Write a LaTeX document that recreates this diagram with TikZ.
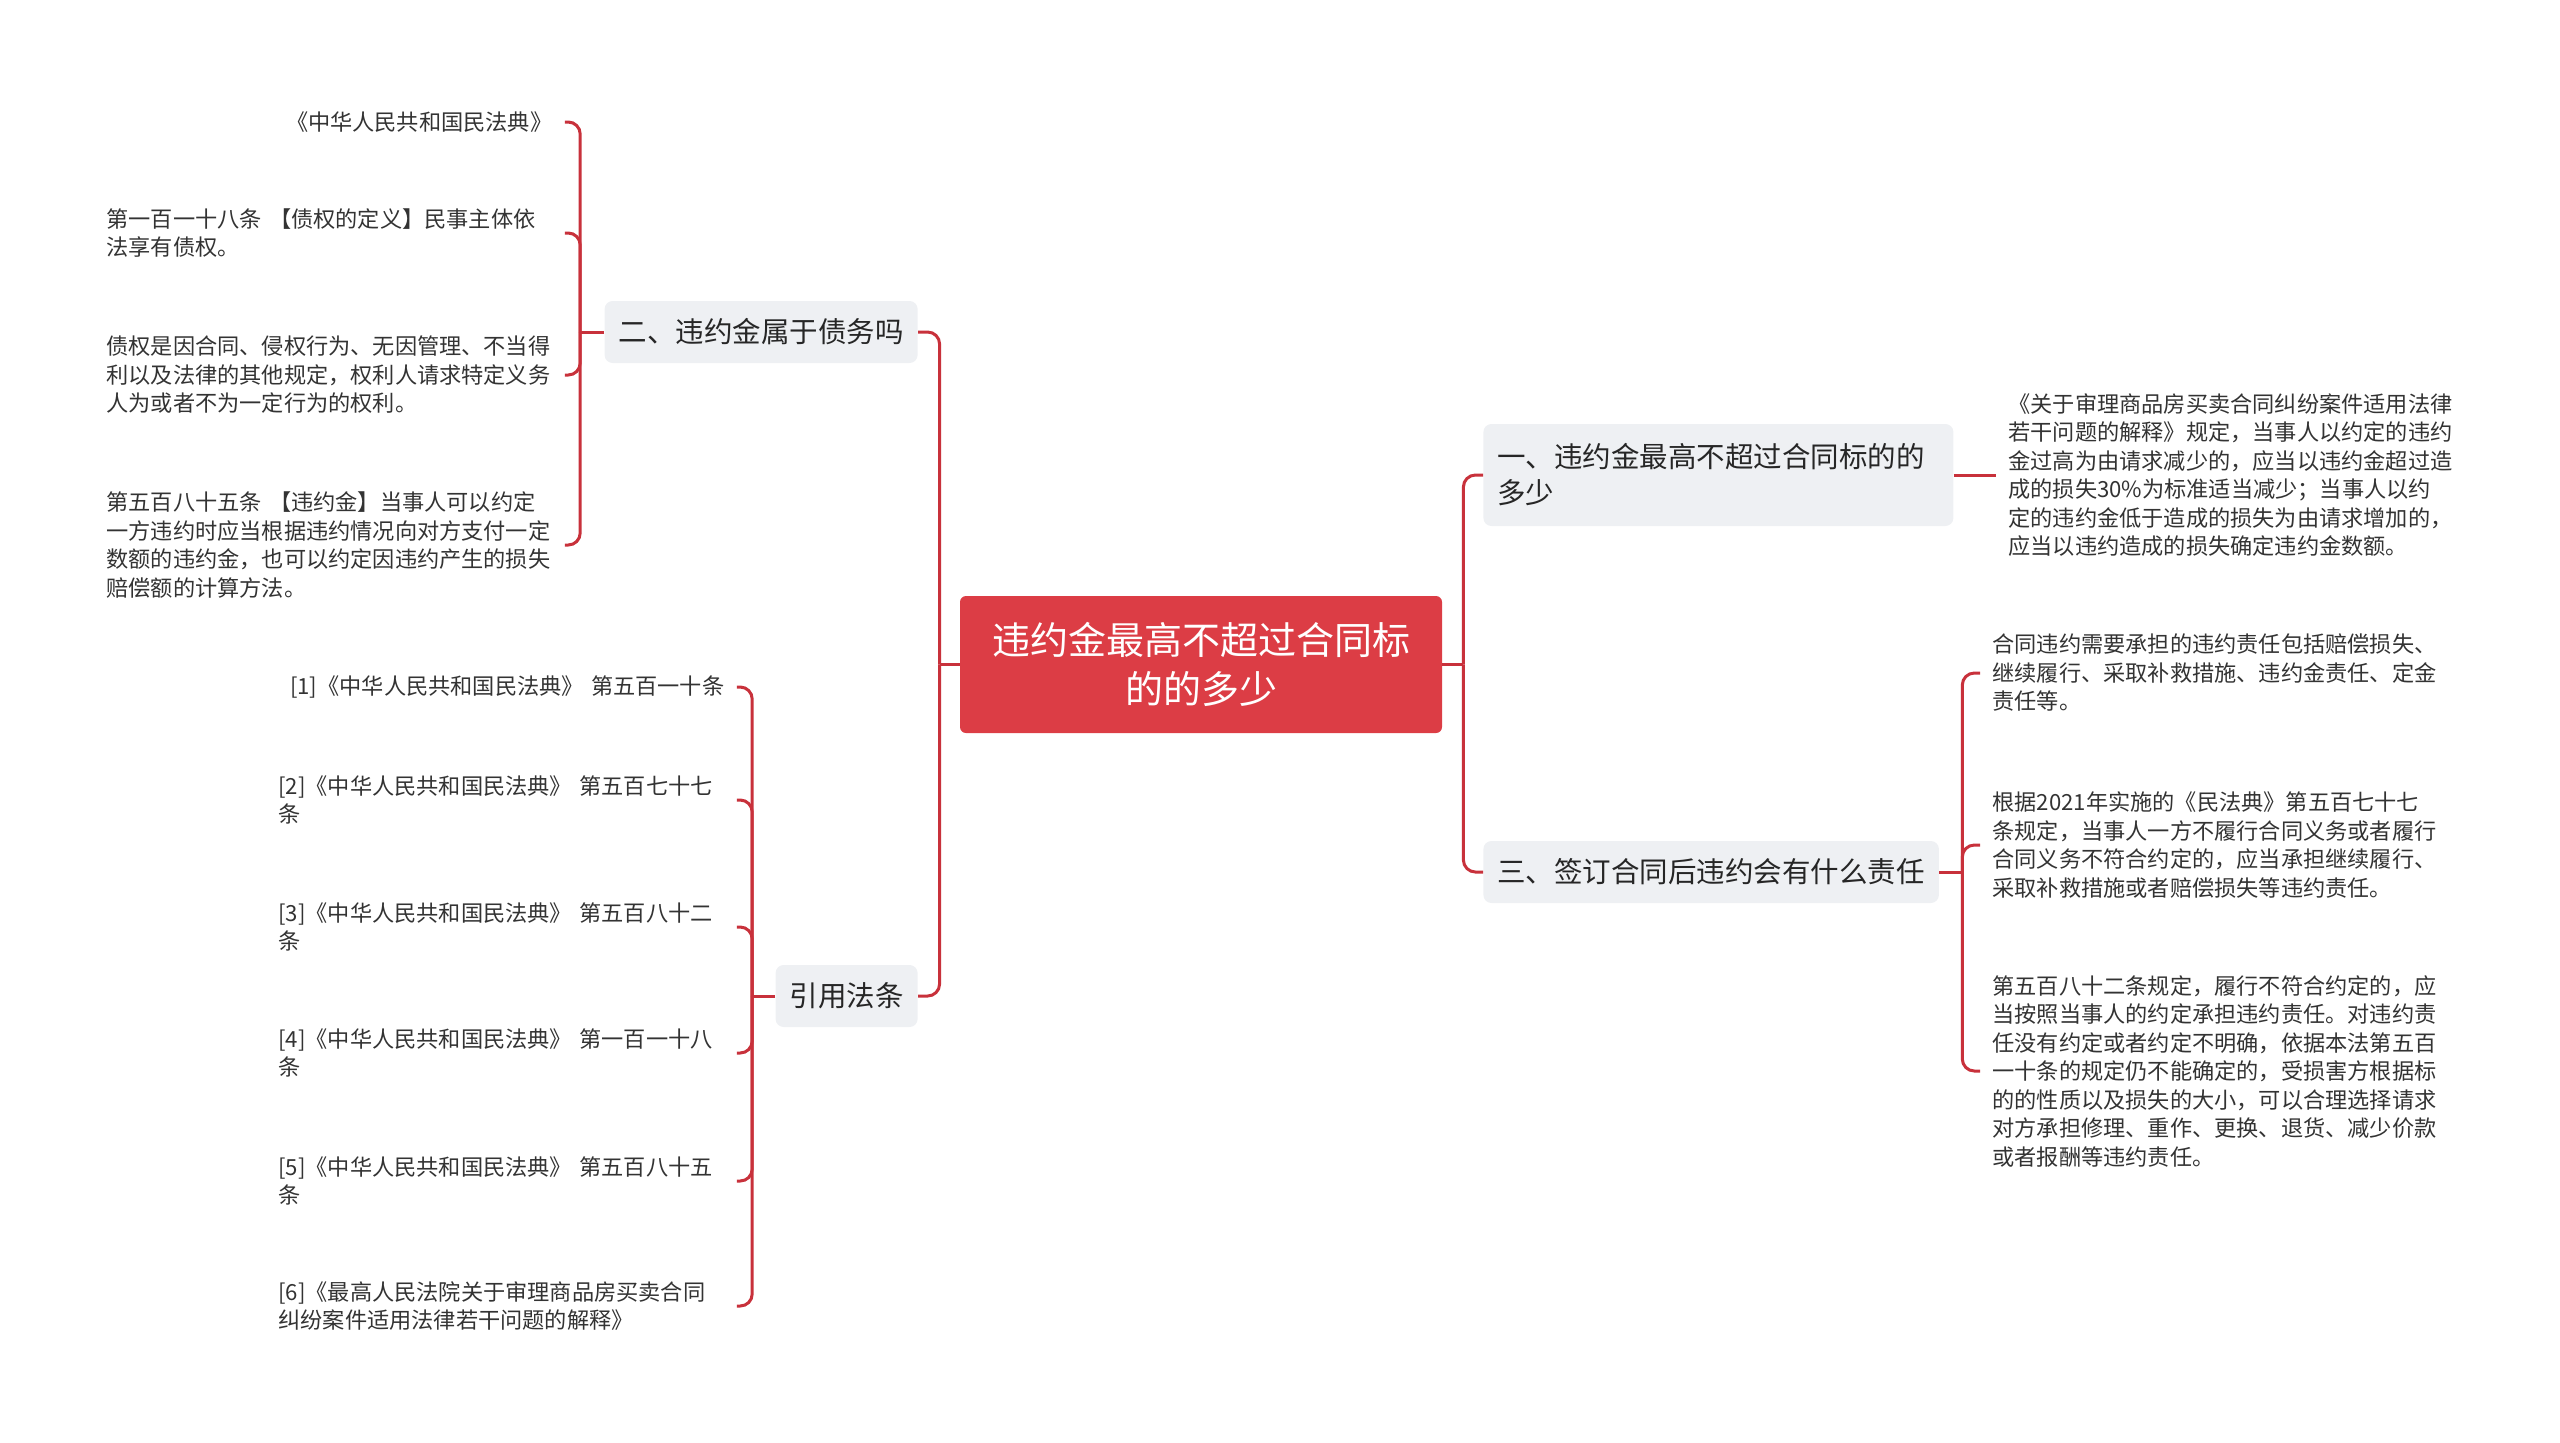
\documentclass[tikz,border=0pt]{standalone}
\usepackage{fontspec}
\setmainfont{Noto Sans CJK SC}
\usetikzlibrary{positioning}
\definecolor{linkred}{HTML}{C8313B}
\definecolor{rootred}{HTML}{DC3D45}
\definecolor{topicgray}{HTML}{EEF0F3}
\definecolor{inkgray}{HTML}{333333}

\begin{document}
\begin{tikzpicture}[x=0.5pt, y=-0.5pt,
		branch/.style={draw=linkred, line width=1.5pt, rounded corners=6pt},
		mainbox/.style={fill=rootred, text=white, rounded corners=3pt,
			minimum width=241pt, minimum height=68.5pt, align=center,
			font=\fontsize{19}{24.5}\selectfont},
		topic/.style={fill=topicgray, text=black!85, rounded corners=4pt,
			inner xsep=7pt, minimum height=31pt,
			font=\fontsize{14.25}{18}\selectfont},
		leaf/.style={text=inkgray, text width=223pt, inner xsep=6pt, inner ysep=2pt,
			align=left, font=\fontsize{11.1}{14.25}\selectfont}]
		\useasboundingbox (0,0) rectangle (2560,1442);
		
		%Root
		\node[mainbox] (root) at (1201,664.5){违约金最高不超过合同标\\的的多少};
		\coordinate[left=10pt of root.west] (jleft);
		\coordinate[right=10.5pt of root.east] (jright);
		
		%Main topics
		\node[topic, anchor=east] (ertwo) at (918,332){二、违约金属于债务吗};
		\node[topic, anchor=east] (cite) at (918,996){引用法条};
		\node[topic,
		      anchor=west,
		      text width=221pt,
		      align=left,
		      minimum height=51pt] (yione) at (1483,475){一、违约金最高不超过合同标的的\\多少};
		\node[topic, anchor=west] (santhree) at (1483,872){三、签订合同后违约会有什么责任};
		
		\draw[branch] (root.west) -- (jleft);
		\draw[branch] (jleft) |- (ertwo.east);
		\draw[branch] (jleft) |- (cite.east);
		\draw[branch] (root.east) -- (jright);
		\draw[branch] (jright) |- (yione.west);
		\draw[branch] (jright) |- (santhree.west);
		
		%Topic two leaves
		\node[leaf, anchor=west, align=right] (lawbook) at (94,122){《中华人民共和国民法典》};
		\node[leaf, anchor=west] (art118) at (94,233){第一百一十八条 【债权的定义】民事主体依\\法享有债权。};
		\node[leaf, anchor=west] (claim) at (94,375){债权是因合同、侵权行为、无因管理、不当得\\利以及法律的其他规定，权利人请求特定义务\\人为或者不为一定行为的权利。};
		\node[leaf, anchor=west] (art585) at (94,545){第五百八十五条 【违约金】当事人可以约定\\一方违约时应当根据违约情况向对方支付一定\\数额的违约金，也可以约定因违约产生的损失\\赔偿额的计算方法。};
		\coordinate[left=12pt of ertwo.west] (jtwo);
		\draw[branch] (ertwo.west) -- (jtwo);
		\foreach \leafname in {lawbook, art118, claim, art585}
			\draw[branch] (jtwo) |- (\leafname.east);
		
		%Citation leaves
		\node[leaf, anchor=west, align=right] (citeone) at (266,687){[1]《中华人民共和国民法典》 第五百一十条};
		\node[leaf, anchor=west] (citetwo) at (266,800){[2]《中华人民共和国民法典》 第五百七十七\\条};
		\node[leaf, anchor=west] (citethree) at (266,927){[3]《中华人民共和国民法典》 第五百八十二\\条};
		\node[leaf, anchor=west] (citefour) at (266,1053){[4]《中华人民共和国民法典》 第一百一十八\\条};
		\node[leaf, anchor=west] (citefive) at (266,1181){[5]《中华人民共和国民法典》 第五百八十五\\条};
		\node[leaf, anchor=west] (citesix) at (266,1306){[6]《最高人民法院关于审理商品房买卖合同\\纠纷案件适用法律若干问题的解释》};
		\coordinate[left=11.5pt of cite.west] (jcite);
		\draw[branch] (cite.west) -- (jcite);
		\foreach \leafname in {citeone, citetwo, citethree, citefour, citefive, citesix}
			\draw[branch] (jcite) |- (\leafname.east);
		
		%Topic one leaf
		\node[leaf, anchor=west] (rule) at (1996,475){《关于审理商品房买卖合同纠纷案件适用法律\\若干问题的解释》规定，当事人以约定的违约\\金过高为由请求减少的，应当以违约金超过造\\成的损失30\%为标准适当减少；当事人以约\\定的违约金低于造成的损失为由请求增加的，\\应当以违约造成的损失确定违约金数额。};
		\draw[branch] (yione.east) -- (rule.west);
		
		%Topic three leaves
		\node[leaf, anchor=west] (duty) at (1980,673){合同违约需要承担的违约责任包括赔偿损失、\\继续履行、采取补救措施、违约金责任、定金\\责任等。};
		\node[leaf, anchor=west] (civil) at (1980,845){根据2021年实施的《民法典》第五百七十七\\条规定，当事人一方不履行合同义务或者履行\\合同义务不符合约定的，应当承担继续履行、\\采取补救措施或者赔偿损失等违约责任。};
		\node[leaf, anchor=west] (art582) at (1980,1071){第五百八十二条规定，履行不符合约定的，应\\当按照当事人的约定承担违约责任。对违约责\\任没有约定或者约定不明确，依据本法第五百\\一十条的规定仍不能确定的，受损害方根据标\\的的性质以及损失的大小，可以合理选择请求\\对方承担修理、重作、更换、退货、减少价款\\或者报酬等违约责任。};
		\coordinate[right=11.5pt of santhree.east] (jthree);
		\draw[branch] (santhree.east) -- (jthree);
		\foreach \leafname in {duty, civil, art582}
			\draw[branch] (jthree) |- (\leafname.west);
	\end{tikzpicture}
\end{document}
